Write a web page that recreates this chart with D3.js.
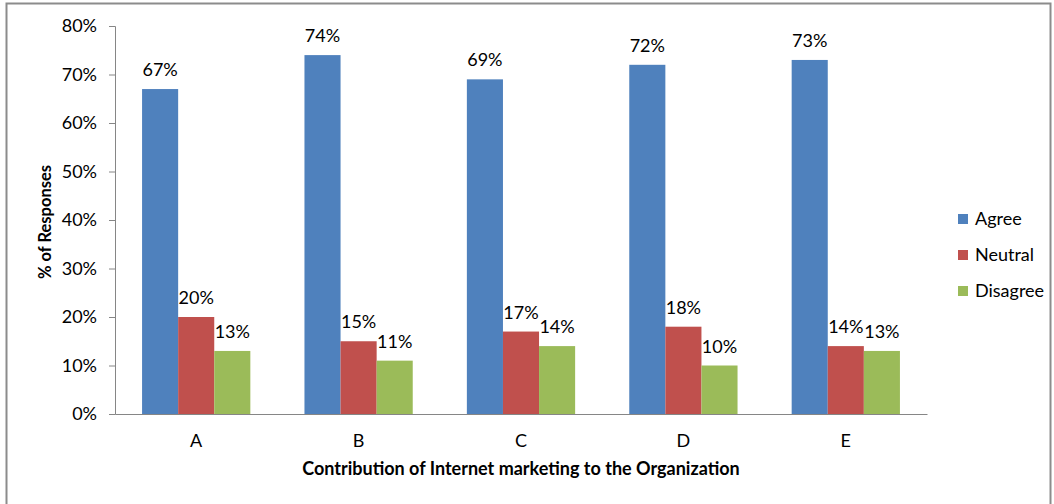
<!DOCTYPE html>
<html><head><meta charset="utf-8">
<script src="https://cdn.jsdelivr.net/npm/d3@7"></script>
<style>body{margin:0;background:#fff}svg{display:block}text{font-family:Lato,"Open Sans",sans-serif}</style>
</head><body>
<svg id="c" width="1054" height="504"></svg>
<script>
const categories = ["A","B","C","D","E"];
const seriesNames = ["Agree","Neutral","Disagree"];
const agree = [67,74,69,72,73];
const neutral = [20,15,17,18,14];
const disagree = [13,11,14,10,13];
const yTicks = [0,10,20,30,40,50,60,70,80];
const colors = ["#4F81BD","#C0504D","#9BBB59"];
const values = [agree, neutral, disagree];

const svg = d3.select("#c");
svg.append("rect").attr("x",6.5).attr("y",3.5).attr("width",1044).attr("height",520)
  .attr("fill","#fff").attr("stroke","#8c8c8c").attr("stroke-width",2);

const x0 = d3.scaleBand().domain(categories).range([115,927]).paddingInner(1/3).paddingOuter(1/6);
const x1 = d3.scaleBand().domain(seriesNames).range([0,x0.bandwidth()]);
const y = d3.scaleLinear().domain([0,80]).range([414,26]);

const yAxis = svg.append("g").attr("transform","translate(115,0)")
  .call(d3.axisLeft(y).tickValues(yTicks).tickFormat(d=>d+"%").tickSizeOuter(0).tickSize(6).tickPadding(12));
yAxis.select(".domain").attr("stroke","#868686");
yAxis.selectAll(".tick line").attr("stroke","#868686");
yAxis.selectAll("text").attr("font-size",18).attr("fill","#000").style("font-family","Lato,'Open Sans',sans-serif");

const xAxis = svg.append("g").attr("transform","translate(0,414)")
  .call(d3.axisBottom(x0).tickSize(0).tickSizeOuter(0).tickPadding(20));
xAxis.select(".domain").attr("stroke","#868686");
xAxis.selectAll("text").attr("font-size",18).attr("fill","#000").style("font-family","Lato,'Open Sans',sans-serif");

const groups = svg.append("g").selectAll("g").data(categories).join("g")
  .attr("transform",d=>`translate(${x0(d)},0)`);
seriesNames.forEach((s,si)=>{
  groups.append("rect")
    .attr("x",x1(s)).attr("width",x1.bandwidth())
    .attr("y",(d,i)=>y(values[si][i])).attr("height",(d,i)=>414-y(values[si][i]))
    .attr("fill",colors[si]);
  groups.append("text")
    .attr("x",x1(s)+x1.bandwidth()/2).attr("y",(d,i)=>y(values[si][i])-13)
    .attr("text-anchor","middle").attr("font-size",18).attr("fill","#000")
    .text((d,i)=>values[si][i]+"%");
});

svg.append("text").attr("x",521).attr("y",475).attr("text-anchor","middle")
  .attr("font-size",18).attr("font-weight","bold").text("Contribution  of Internet marketing to the Organization");
svg.append("text").attr("transform","translate(51,222) rotate(-90)").attr("text-anchor","middle")
  .attr("font-size",16.5).attr("font-weight","bold").text("% of Responses");

const leg = svg.append("g").selectAll("g").data(seriesNames).join("g")
  .attr("transform",(d,i)=>`translate(958,${219+i*36})`);
leg.append("rect").attr("x",0).attr("y",-5).attr("width",10).attr("height",10).attr("fill",(d,i)=>colors[i]);
leg.append("text").attr("x",17).attr("y",0).attr("dy","0.35em").attr("font-size",18).text(d=>d);
</script>
</body></html>
